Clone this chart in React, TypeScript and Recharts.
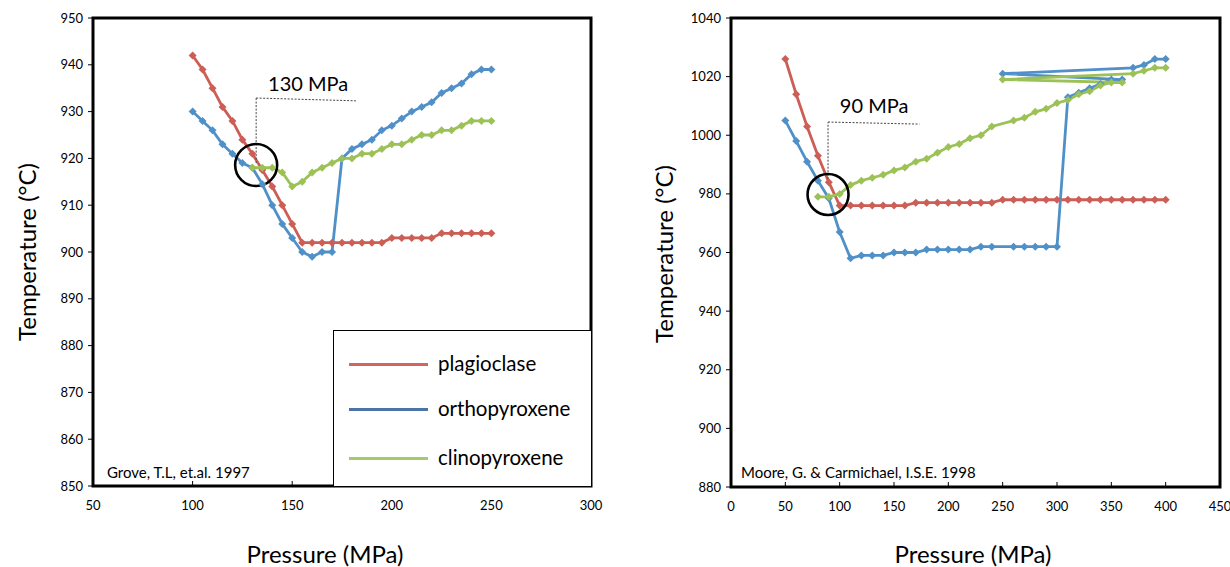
import React from 'react';
import {
  LineChart,
  Line,
  XAxis,
  YAxis,
  ReferenceArea,
  ReferenceLine,
  ReferenceDot,
  Legend,
} from 'recharts';

// ---------- Left chart data (Grove, T.L, et.al. 1997) ----------
const leftPlagP = [100, 105, 110, 115, 120, 125, 130, 135, 140, 145, 150, 155, 160, 165, 170, 175, 180, 185, 190, 195, 200, 205, 210, 215, 220, 225, 230, 235, 240, 245, 250];
const leftPlagT = [942, 939, 935, 931, 928, 924, 921, 917.5, 914, 910, 906, 902, 902, 902, 902, 902, 902, 902, 902, 902, 903, 903, 903, 903, 903, 904, 904, 904, 904, 904, 904];
const leftOpxP = [100, 105, 110, 115, 120, 125, 130, 135, 140, 145, 150, 155, 160, 165, 170, 175, 180, 185, 190, 195, 200, 205, 210, 215, 220, 225, 230, 235, 240, 245, 250];
const leftOpxT = [930, 928, 926, 923, 921, 919, 918, 914.5, 910, 906, 903, 900, 899, 900, 900, 920, 922, 923, 924, 926, 927, 928.5, 930, 931, 932, 934, 935, 936, 938, 939, 939];
const leftCpxP = [130, 135, 140, 145, 150, 155, 160, 165, 170, 175, 180, 185, 190, 195, 200, 205, 210, 215, 220, 225, 230, 235, 240, 245, 250];
const leftCpxT = [918, 918, 918, 917, 914, 915, 917, 918, 919, 920, 920, 921, 921, 922, 923, 923, 924, 925, 925, 926, 926, 927, 928, 928, 928];
const leftXTicks = [50, 100, 150, 200, 250, 300];
const leftYTicks = [850, 860, 870, 880, 890, 900, 910, 920, 930, 940, 950];

// ---------- Right chart data (Moore, G. & Carmichael, I.S.E. 1998) ----------
const rightPlagP = [50, 60, 70, 80, 90, 100, 110, 120, 130, 140, 150, 160, 170, 180, 190, 200, 210, 220, 230, 240, 250, 260, 270, 280, 290, 300, 310, 320, 330, 340, 350, 360, 370, 380, 390, 400];
const rightPlagT = [1026, 1014, 1003, 993, 984, 976, 976, 976, 976, 976, 976, 976, 977, 977, 977, 977, 977, 977, 977, 977, 978, 978, 978, 978, 978, 978, 978, 978, 978, 978, 978, 978, 978, 978, 978, 978];
const rightOpxP = [50, 60, 70, 80, 90, 100, 110, 120, 130, 140, 150, 160, 170, 180, 190, 200, 210, 220, 230, 240, 260, 270, 280, 290, 300, 310, 320, 330, 340, 350, 360, 250, 370, 380, 390, 400];
const rightOpxT = [1005, 998, 991, 984.5, 978.5, 967, 958, 959, 959, 959, 960, 960, 960, 961, 961, 961, 961, 961, 962, 962, 962, 962, 962, 962, 962, 1013, 1014.5, 1016, 1017.5, 1019, 1019, 1021, 1023, 1024, 1026, 1026];
const rightCpxP = [80, 90, 100, 110, 120, 130, 140, 150, 160, 170, 180, 190, 200, 210, 220, 230, 240, 260, 270, 280, 290, 300, 310, 320, 330, 340, 350, 360, 250, 370, 380, 390, 400];
const rightCpxT = [979, 979, 980, 983, 984.5, 985.5, 986.5, 988, 989, 991, 992, 994, 996, 997, 999, 1000, 1003, 1005, 1006, 1008, 1009, 1011, 1012, 1014, 1015, 1017, 1018, 1018, 1019, 1021, 1022, 1023, 1023];
const rightXTicks = [0, 50, 100, 150, 200, 250, 300, 350, 400, 450];
const rightYTicks = [880, 900, 920, 940, 960, 980, 1000, 1020, 1040];

const seriesNames = ['plagioclase', 'orthopyroxene', 'clinopyroxene'];

const FONT = 'Lato, "Open Sans", sans-serif';
const RED = '#CC5E55';
const BLUE = '#5090C8';
const GREEN = '#9CC257';
const LEG_COLORS = ['#D0665E', '#4A74A8', '#A6CA68'];

const zip = (ps: number[], ts: number[]) => ps.map((p, i) => ({ p, t: ts[i] }));

const Diamond = (props: any) => {
  const { cx, cy, c } = props;
  if (cx == null || cy == null) return null;
  const s = 4;
  return <path d={`M${cx},${cy - s}L${cx + s},${cy}L${cx},${cy + s}L${cx - s},${cy}Z`} fill={c} />;
};

const XTick = (props: any) => {
  const { x, y, payload } = props;
  return (
    <g>
      <line x1={x} x2={x} y1={y} y2={y - 5} stroke="#000" strokeWidth={1} />
      <text x={x} y={y + 24} textAnchor="middle" fontSize={13} fontFamily={FONT} fill="#000">
        {payload.value}
      </text>
    </g>
  );
};

const LegendBox = () => {
  const rows = [33, 78, 127];
  return (
    <div
      style={{
        position: 'relative',
        width: 258,
        height: 156,
        background: '#fff',
        borderLeft: '1px solid #000',
        borderTop: '1px solid #000',
        boxSizing: 'border-box',
        fontFamily: FONT,
      }}
    >
      {seriesNames.map((n, i) => (
        <div key={n}>
          <div
            style={{
              position: 'absolute',
              left: 15,
              top: rows[i] - 1.5,
              width: 79,
              height: 3,
              background: LEG_COLORS[i],
            }}
          />
          <div
            style={{
              position: 'absolute',
              left: 104,
              top: rows[i] - 13,
              fontSize: 20.5,
              lineHeight: '24px',
              color: '#000',
              whiteSpace: 'nowrap',
            }}
          >
            {n}
          </div>
        </div>
      ))}
    </div>
  );
};

const abs = (extra: React.CSSProperties): React.CSSProperties => ({
  position: 'absolute',
  fontFamily: FONT,
  color: '#000',
  whiteSpace: 'nowrap',
  ...extra,
});

const lineCommon = {
  type: 'linear' as const,
  dataKey: 't',
  strokeWidth: 2.8,
  isAnimationActive: false,
  activeDot: false,
};

export default function App() {
  return (
    <div style={{ position: 'absolute', left: 0, top: 0, width: 1230, height: 567, background: '#fff', overflow: 'hidden' }}>
      {/* Left chart */}
      <div style={{ position: 'absolute', left: 0, top: 0 }}>
        <LineChart width={610} height={567} margin={{ top: 18, right: 19, bottom: 51, left: 0 }}>
          <XAxis
            type="number"
            dataKey="p"
            domain={[50, 300]}
            ticks={leftXTicks}
            height={30}
            axisLine={false}
            tickLine={false}
            tickSize={0}
            tickMargin={0}
            tick={<XTick />}
            interval={0}
          />
          <YAxis
            type="number"
            domain={[850, 950]}
            ticks={leftYTicks}
            width={93}
            axisLine={false}
            tickLine={{ stroke: '#000' }}
            tickSize={5}
            tickMargin={5}
            tick={{ fill: '#000', fontSize: 13, fontFamily: FONT }}
            interval={0}
          />
          <Line {...lineCommon} data={zip(leftPlagP, leftPlagT)} name={seriesNames[0]} stroke={RED} dot={<Diamond c={RED} />} />
          <Line {...lineCommon} data={zip(leftOpxP, leftOpxT)} name={seriesNames[1]} stroke={BLUE} dot={<Diamond c={BLUE} />} />
          <Line {...lineCommon} data={zip(leftCpxP, leftCpxT)} name={seriesNames[2]} stroke={GREEN} dot={<Diamond c={GREEN} />} />
          <ReferenceLine segment={[{ x: 131.9, y: 919 }, { x: 131.9, y: 932.9 }]} stroke="#444" strokeDasharray="2 1.5" strokeWidth={1} />
          <ReferenceLine segment={[{ x: 131.9, y: 932.9 }, { x: 182, y: 932.3 }]} stroke="#444" strokeDasharray="2 1.5" strokeWidth={1} />
          <ReferenceDot x={131.9} y={918.6} r={21} fill="none" stroke="#000" strokeWidth={2.6} />
          <ReferenceDot
            x={158}
            y={935.9}
            r={1}
            fill="none"
            stroke="none"
            label={{ value: '130 MPa', position: 'center', fill: '#000', fontSize: 20, fontFamily: FONT }}
          />
          <ReferenceArea x1={50} x2={300} y1={850} y2={950} fill="none" stroke="#000" strokeWidth={3} />
          <Legend
            layout="vertical"
            verticalAlign="middle"
            align="center"
            content={<LegendBox />}
            wrapperStyle={{ left: 333, top: 330, width: 258, height: 156, margin: 0, padding: 0 }}
          />
        </LineChart>
      </div>

      {/* Right chart */}
      <div style={{ position: 'absolute', left: 610, top: 0 }}>
        <LineChart width={620} height={567} margin={{ top: 18, right: 10, bottom: 50, left: 0 }}>
          <XAxis
            type="number"
            dataKey="p"
            domain={[0, 450]}
            ticks={rightXTicks}
            height={30}
            axisLine={false}
            tickLine={false}
            tickSize={0}
            tickMargin={0}
            tick={<XTick />}
            interval={0}
          />
          <YAxis
            type="number"
            domain={[880, 1040]}
            ticks={rightYTicks}
            width={121}
            axisLine={false}
            tickLine={{ stroke: '#000' }}
            tickSize={5}
            tickMargin={5}
            tick={{ fill: '#000', fontSize: 13, fontFamily: FONT }}
            interval={0}
          />
          <Line {...lineCommon} data={zip(rightPlagP, rightPlagT)} name={seriesNames[0]} stroke={RED} dot={<Diamond c={RED} />} />
          <Line {...lineCommon} data={zip(rightOpxP, rightOpxT)} name={seriesNames[1]} stroke={BLUE} dot={<Diamond c={BLUE} />} />
          <Line {...lineCommon} data={zip(rightCpxP, rightCpxT)} name={seriesNames[2]} stroke={GREEN} dot={<Diamond c={GREEN} />} />
          <ReferenceLine segment={[{ x: 89.3, y: 985 }, { x: 89.3, y: 1004.5 }]} stroke="#444" strokeDasharray="2 1.5" strokeWidth={1} />
          <ReferenceLine segment={[{ x: 89.3, y: 1004.5 }, { x: 173.4, y: 1003.8 }]} stroke="#444" strokeDasharray="2 1.5" strokeWidth={1} />
          <ReferenceDot x={89.3} y={979.8} r={20.5} fill="none" stroke="#000" strokeWidth={2.6} />
          <ReferenceDot
            x={131.7}
            y={1009.9}
            r={1}
            fill="none"
            stroke="none"
            label={{ value: '90 MPa', position: 'center', fill: '#000', fontSize: 20, fontFamily: FONT }}
          />
          <ReferenceArea x1={0} x2={450} y1={880} y2={1040} fill="none" stroke="#000" strokeWidth={3} />
        </LineChart>
      </div>

      {/* Axis titles & citations */}
      <div style={abs({ left: 26, top: 252, fontSize: 24, transform: 'translate(-50%, -50%) rotate(-90deg)' })}>Temperature (°C)</div>
      <div style={abs({ left: 663, top: 254, fontSize: 24, transform: 'translate(-50%, -50%) rotate(-90deg)' })}>Temperature (°C)</div>
      <div style={abs({ left: 325, top: 553, fontSize: 24, transform: 'translate(-50%, -50%)' })}>Pressure (MPa)</div>
      <div style={abs({ left: 973, top: 553, fontSize: 24, transform: 'translate(-50%, -50%)' })}>Pressure (MPa)</div>
      <div style={abs({ left: 107, top: 472, fontSize: 15, transform: 'translateY(-50%)' })}>Grove, T.L, et.al. 1997</div>
      <div style={abs({ left: 741, top: 472, fontSize: 15, transform: 'translateY(-50%)' })}>Moore, G. &amp; Carmichael, I.S.E. 1998</div>
    </div>
  );
}
